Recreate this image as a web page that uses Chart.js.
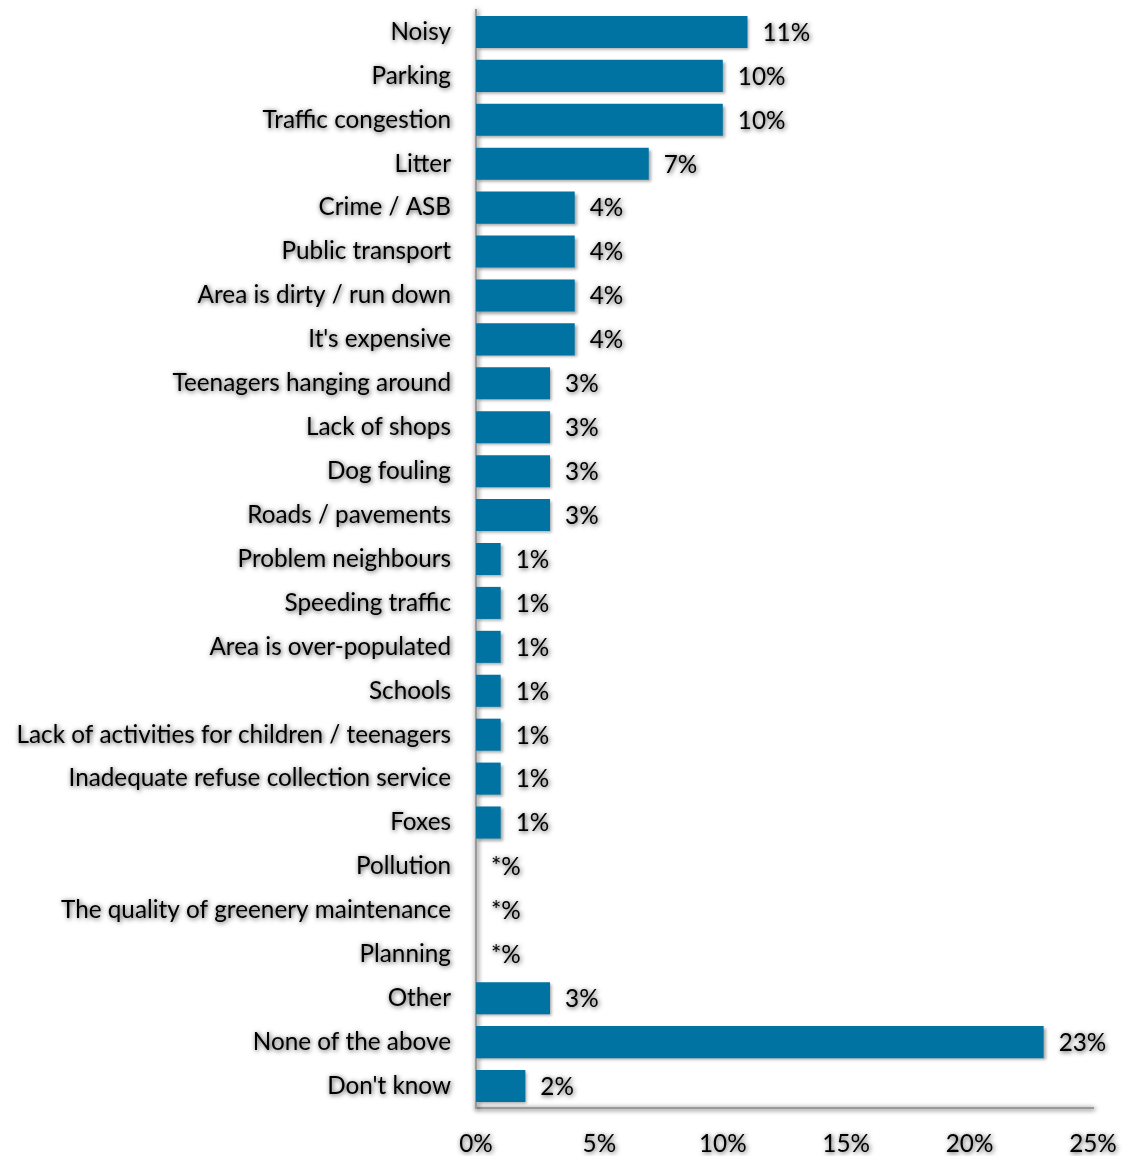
<!DOCTYPE html>
<html>
<head>
<meta charset="utf-8">
<script src="https://cdn.jsdelivr.net/npm/chart.js@4.4.1/dist/chart.umd.min.js"></script>
<style>
  html, body { margin: 0; padding: 0; background: #fff; }
  #wrap { width: 1125px; height: 1156px; }
</style>
</head>
<body>
<div id="wrap"><canvas id="chart" width="1125" height="1156"></canvas></div>
<script>
// issues mentioned about the local area, % of respondents
const categories = [
  'Noisy', 'Parking', 'Traffic congestion', 'Litter', 'Crime / ASB',
  'Public transport', 'Area is dirty / run down', "It's expensive",
  'Teenagers hanging around', 'Lack of shops', 'Dog fouling', 'Roads / pavements',
  'Problem neighbours', 'Speeding traffic', 'Area is over-populated', 'Schools',
  'Lack of activities for children / teenagers', 'Inadequate refuse collection service',
  'Foxes', 'Pollution', 'The quality of greenery maintenance', 'Planning',
  'Other', 'None of the above', "Don't know"
]

const values = [11, 10, 10, 7, 4, 4, 4, 4, 3, 3, 3, 3, 1, 1, 1, 1, 1, 1, 1, 0, 0, 0, 3, 23, 2]

// * = less than 0.5%
const valueLabels = [
  '11%', '10%', '10%', '7%', '4%', '4%', '4%', '4%', '3%', '3%', '3%', '3%',
  '1%', '1%', '1%', '1%', '1%', '1%', '1%', '*%', '*%', '*%', '3%', '23%', '2%'
]

const xTicks = [0, 5, 10, 15, 20, 25]

const FONT = { family: 'Lato, "Open Sans", sans-serif', size: 24.3 }

function textShadow (ctx) {
  ctx.shadowColor = 'rgba(0, 0, 0, 0.75)'
  ctx.shadowBlur = 5
  ctx.shadowOffsetX = 1
  ctx.shadowOffsetY = 1
}

// no extra room for the overhanging tick labels, the plot area is fixed by padding
function noScalePadding (scale) {
  scale.paddingLeft = 0
  scale.paddingRight = 0
  scale.paddingTop = 0
  scale.paddingBottom = 0
}

const shadowPlugin = {
  id: 'shadows',
  beforeDraw (chart) {
    textShadow(chart.ctx)
  },
  beforeDatasetsDraw (chart) {
    const ctx = chart.ctx
    ctx.shadowColor = 'rgba(0, 0, 0, 0.35)'
    ctx.shadowBlur = 3
    ctx.shadowOffsetX = 2
    ctx.shadowOffsetY = 2
  },
  afterDatasetsDraw (chart) {
    const ctx = chart.ctx
    const meta = chart.getDatasetMeta(0)
    ctx.save()
    textShadow(ctx)
    ctx.font = FONT.size + 'px ' + FONT.family
    ctx.fillStyle = '#000'
    ctx.textAlign = 'left'
    ctx.textBaseline = 'middle'
    meta.data.forEach((bar, i) => {
      ctx.fillText(valueLabels[i], bar.x + 15, bar.y + 1)
    })
    ctx.restore()
  },
  afterDraw (chart) {
    const ctx = chart.ctx
    ctx.shadowColor = 'rgba(0, 0, 0, 0)'
    ctx.shadowBlur = 0
    ctx.shadowOffsetX = 0
    ctx.shadowOffsetY = 0
  }
}

new Chart(document.getElementById('chart'), {
  type: 'bar',
  data: {
    labels: categories,
    datasets: [{
      data: values,
      backgroundColor: '#0173a3',
      borderWidth: 0,
      barPercentage: 0.73,
      categoryPercentage: 1
    }]
  },
  options: {
    indexAxis: 'y',
    responsive: false,
    animation: false,
    layout: { autoPadding: false, padding: { top: 10, right: 32, bottom: 0, left: 0 } },
    plugins: {
      legend: { display: false },
      tooltip: { enabled: false }
    },
    scales: {
      x: {
        min: 0,
        max: 25,
        afterBuildTicks (scale) {
          scale.ticks = xTicks.map(v => ({ value: v }))
        },
        afterFit (scale) {
          scale.height = 48
          noScalePadding(scale)
        },
        grid: { display: false, drawTicks: false },
        border: { display: true, color: '#9a9a9a', width: 2 },
        ticks: {
          padding: 22,
          color: '#000',
          font: FONT,
          maxRotation: 0,
          callback: v => v + '%'
        }
      },
      y: {
        afterFit (scale) {
          scale.width = 476
          noScalePadding(scale)
        },
        grid: { display: false, drawTicks: false },
        border: { display: true, color: '#9a9a9a', width: 2 },
        ticks: {
          padding: 25,
          color: '#000',
          font: FONT,
          autoSkip: false
        }
      }
    }
  },
  plugins: [shadowPlugin]
})
</script>
</body>
</html>
